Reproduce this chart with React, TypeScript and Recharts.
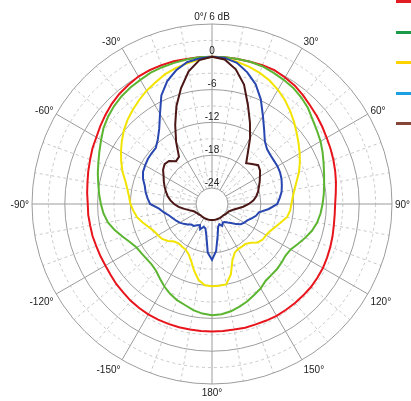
import { RadarChart, Radar, PolarGrid, PolarAngleAxis, PolarRadiusAxis, Legend } from 'recharts';

// angles in degrees, clockwise from the top (185..355 are -175..-5)
const angles = [
  0, 5, 10, 15, 20, 25, 30, 35, 40, 45, 50, 55, 60, 65, 70, 75, 80, 85,
  90, 95, 100, 105, 110, 115, 120, 125, 130, 135, 140, 145, 150, 155, 160, 165, 170, 175,
  180, 185, 190, 195, 200, 205, 210, 215, 220, 225, 230, 235, 240, 245, 250, 255, 260, 265,
  270, 275, 280, 285, 290, 295, 300, 305, 310, 315, 320, 325, 330, 335, 340, 345, 350, 355,
];

const red = [
  0, 0, 0, 0, 0.1, 0.1, -0.2, -0.5, -1.0, -1.5, -1.9, -2.3, -2.7, -3.0, -3.3, -3.6, -3.9, -4.2,
  -4.4, -4.4, -4.3, -4.1, -3.9, -3.7, -3.5, -3.4, -3.3, -3.3, -3.3, -3.3, -3.3, -3.4, -3.5, -3.5, -3.6, -3.6,
  -3.6, -3.6, -3.6, -3.6, -3.6, -3.6, -3.6, -3.7, -3.8, -4.0, -4.1, -4.3, -4.4, -4.4, -4.4, -4.3, -4.3, -4.2,
  -4.2, -4.0, -3.8, -3.5, -3.2, -2.8, -2.5, -2.0, -1.5, -1.0, -0.6, -0.3, 0.0, 0.1, 0.1, 0.1, 0.0, 0.0,
];

const green = [
  0, 0, 0, 0, -0.1, -0.4, -0.7, -1.0, -1.5, -2.1, -2.9, -3.5, -4.0, -4.6, -5.2, -5.7, -6.1, -6.4,
  -6.7, -7.0, -7.4, -8.0, -8.8, -9.6, -10.3, -10.5, -10.3, -10.1, -10.0, -9.8, -9.1, -8.6, -8.0, -7.5, -7.0, -6.7,
  -6.6, -6.8, -7.2, -7.8, -8.2, -8.8, -9.5, -10.3, -11.0, -11.3, -11.3, -11.2, -11.0, -10.4, -9.5, -8.5, -7.6, -7.0,
  -6.6, -6.2, -5.8, -5.3, -4.8, -4.2, -3.5, -2.7, -2.1, -1.6, -1.2, -0.9, -0.7, -0.4, -0.3, -0.2, -0.1, 0,
];

const yellow = [
  0, -0.2, -0.5, -0.9, -1.4, -2.0, -2.8, -3.7, -4.7, -5.7, -6.7, -7.6, -8.4, -9.2, -10.0, -10.9, -11.6, -12.1,
  -12.4, -12.6, -13.0, -13.9, -14.6, -15.2, -15.5, -15.6, -16.0, -16.9, -17.4, -17.4, -17.4, -17.1, -16.0, -13.6, -12.0, -11.9,
  -11.9, -12.0, -12.8, -14.3, -15.8, -16.8, -17.3, -17.4, -17.5, -17.2, -16.4, -15.8, -15.5, -15.2, -14.6, -13.8, -13.0, -12.5,
  -12.0, -11.7, -11.2, -10.5, -9.5, -8.6, -7.7, -6.8, -5.9, -5.1, -4.4, -3.7, -3.0, -2.4, -1.7, -1.2, -0.8, -0.4,
];

const blue = [
  0, -0.1, -0.7, -2.0, -3.6, -5.8, -8.3, -10.3, -11.9, -12.7, -13.0, -13.1, -13.1, -13.2, -13.4, -13.7, -14.0, -14.5,
  -15.0, -16.5, -18.2, -18.6, -19.2, -19.8, -20.1, -20.5, -21.2, -22.0, -22.5, -22.9, -23.0, -22.5, -23.0, -22.6, -21.0, -18.3,
  -16.7, -18.0, -21.0, -22.3, -22.5, -21.8, -22.5, -22.2, -21.7, -21.6, -21.1, -20.6, -20.1, -19.7, -19.3, -18.8, -18.0, -17.2,
  -15.6, -15.1, -14.6, -14.2, -13.5, -13.0, -12.8, -12.6, -12.5, -12.4, -11.5, -10.1, -7.9, -5.0, -3.0, -1.6, -0.6, -0.2,
];

const brown = [
  0, -0.4, -1.9, -4.3, -7.7, -10.5, -13.0, -15.5, -17.2, -16.6, -15.9, -16.2, -16.8, -17.3, -17.8, -18.2, -18.7, -19.3,
  -20.2, -21.2, -22.2, -22.9, -23.3, -23.6, -23.7, -23.8, -23.9, -24, -24, -24, -24, -24, -24, -24, -24, -24,
  -24, -24, -24, -24, -24, -24, -24, -24, -24, -24, -23.9, -23.8, -23.7, -23.5, -23.2, -22.6, -21.8, -20.8,
  -20.0, -19.3, -18.7, -18.2, -17.7, -17.2, -16.7, -16.0, -15.6, -15.8, -16.7, -16.4, -13.8, -11.0, -7.9, -5.0, -2.3, -0.5,
];

const radiusTicks = [-24, -18, -12, -6, 0];
const majorRings = [-24, -18, -12, -6, 0, 6];
const minorRings = [-21, -15, -9, -3, 3];
const majorSpokes = [0, 30, 60, 90, 120, 150, 180, 210, 240, 270, 300, 330];
const minorSpokes = [
  10, 20, 40, 50, 70, 80, 100, 110, 130, 140, 160, 170,
  190, 200, 220, 230, 250, 260, 280, 290, 310, 320, 340, 350,
];

const CX = 212;
const CY = 204;
const INNER = 16;
const OUTER = 180;
const MIN_DB = -24;
const MAX_DB = 6;
const FONT = '"Liberation Sans", Arial, sans-serif';

const toRadius = (db: number) => INNER + ((db - MIN_DB) * (OUTER - INNER)) / (MAX_DB - MIN_DB);
const toPolar = (deg: number) => 90 - deg;

const series = [
  { key: 'red', values: red, color: '#e8141c', legend: '#e31b23' },
  { key: 'green', values: green, color: '#5cb531', legend: '#1b9a48' },
  { key: 'yellow', values: yellow, color: '#f2e400', legend: '#ffd200' },
  { key: 'blue', values: blue, color: '#2846b0', legend: '#1ba1e2' },
  { key: 'brown', values: brown, color: '#4b1616', legend: '#86473a' },
];

const data = angles.map((a, i) => {
  const row: Record<string, number> = { angle: a };
  series.forEach((s) => {
    row[s.key] = s.values[i];
  });
  return row;
});

const AngleTick = (props: any) => {
  const v = Number(props.payload.value);
  if (v % 30 !== 0) return <g />;
  const rad = (v * Math.PI) / 180;
  const s = Math.sin(rad);
  const c = Math.cos(rad);
  const x = CX + (OUTER + 3) * s;
  let y = CY - (OUTER + 8) * c;
  if (c < -0.1 && Math.abs(s) > 0.1) y += 3;
  const anchor = Math.abs(s) < 0.01 ? 'middle' : s > 0 ? 'start' : 'end';
  const label = v === 0 ? '0°/ 6 dB' : v > 180 ? `${v - 360}°` : `${v}°`;
  return (
    <text x={x} y={y} textAnchor={anchor} dominantBaseline="central" fontSize={10} fontFamily={FONT} fill="#222">
      {label}
    </text>
  );
};

const RadiusTick = (props: any) => (
  <text x={props.x} y={props.y - 6} textAnchor="middle" dominantBaseline="central" fontSize={10} fontFamily={FONT} fill="#222">
    {props.payload.value}
  </text>
);

const LegendSwatches = () => (
  <div style={{ position: 'relative', width: 15, height: 130 }}>
    {series.map((s, i) => (
      <div
        key={s.key}
        style={{ position: 'absolute', left: 0, top: i * 30.6, width: 15, height: 3, background: s.legend }}
      />
    ))}
  </div>
);

export default function App() {
  return (
    <div style={{ position: 'fixed', left: 0, top: 0, width: 411, height: 401, overflow: 'hidden' }}>
      <RadarChart
        width={411}
        height={401}
        data={data}
        cx={CX}
        cy={CY}
        innerRadius={INNER}
        outerRadius={OUTER}
        margin={{ top: 0, right: 0, bottom: 0, left: 0 }}
      >
        <PolarGrid
          cx={CX}
          cy={CY}
          innerRadius={INNER}
          outerRadius={OUTER}
          gridType="circle"
          polarAngles={minorSpokes.map(toPolar)}
          polarRadius={minorRings.map(toRadius)}
          stroke="#c8c8c8"
          strokeDasharray="3 3"
        />
        <PolarGrid
          cx={CX}
          cy={CY}
          innerRadius={INNER}
          outerRadius={OUTER}
          gridType="circle"
          polarAngles={majorSpokes.map(toPolar)}
          polarRadius={majorRings.map(toRadius)}
          stroke="#9c9c9c"
        />
        <PolarAngleAxis dataKey="angle" axisLine={false} tickLine={false} tick={AngleTick} />
        <PolarRadiusAxis
          angle={90}
          type="number"
          domain={[MIN_DB, MAX_DB]}
          ticks={radiusTicks}
          axisLine={false}
          tickLine={false}
          tick={RadiusTick}
        />
        {series.map((s) => (
          <Radar
            key={s.key}
            dataKey={s.key}
            stroke={s.color}
            strokeWidth={2}
            fill="none"
            fillOpacity={0}
            dot={false}
            isAnimationActive={false}
          />
        ))}
        <Legend
          layout="vertical"
          align="right"
          verticalAlign="top"
          content={() => <LegendSwatches />}
          wrapperStyle={{ top: 0, left: 396, width: 15 }}
        />
      </RadarChart>
    </div>
  );
}
